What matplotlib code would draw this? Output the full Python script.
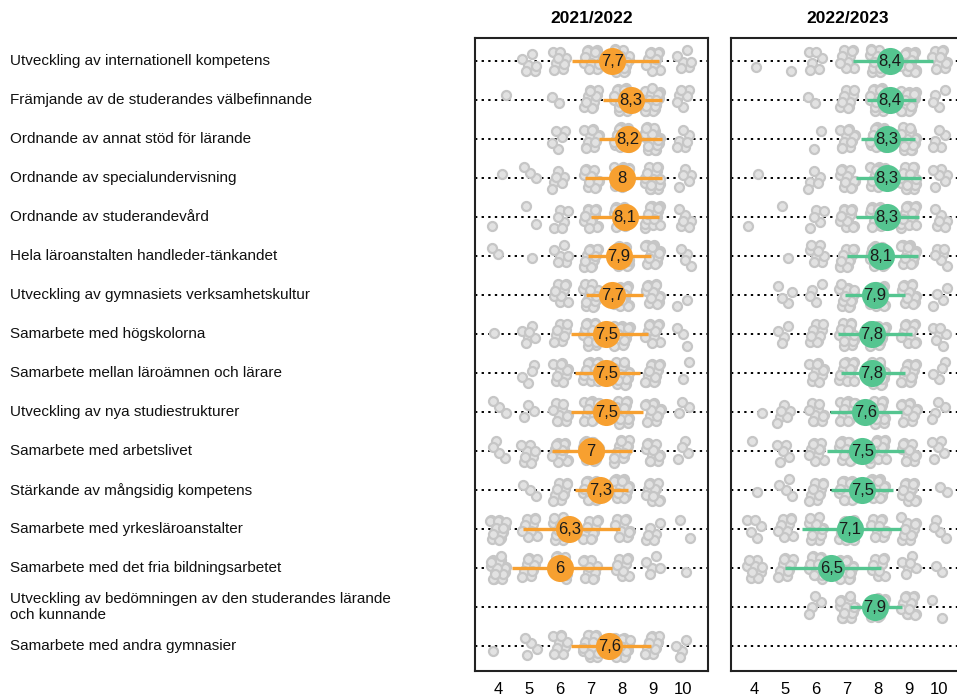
import matplotlib
matplotlib.use("Agg")
import matplotlib.pyplot as plt
from matplotlib import font_manager as fm
import numpy as np

# ---------------- data ----------------
categories = [
    "Utveckling av internationell kompetens",
    "Främjande av de studerandes välbefinnande",
    "Ordnande av annat stöd för lärande",
    "Ordnande av specialundervisning",
    "Ordnande av studerandevård",
    "Hela läroanstalten handleder-tänkandet",
    "Utveckling av gymnasiets verksamhetskultur",
    "Samarbete med högskolorna",
    "Samarbete mellan läroämnen och lärare",
    "Utveckling av nya studiestrukturer",
    "Samarbete med arbetslivet",
    "Stärkande av mångsidig kompetens",
    "Samarbete med yrkesläroanstalter",
    "Samarbete med det fria bildningsarbetet",
    "Utveckling av bedömningen av den studerandes lärande\noch kunnande",
    "Samarbete med andra gymnasier",
]
years = ["2021/2022", "2022/2023"]
scores = [4, 5, 6, 7, 8, 9, 10]

# mean values (None = no data)
means_2122 = [7.7, 8.3, 8.2, 8.0, 8.1, 7.9, 7.7, 7.5, 7.5, 7.5, 7.0, 7.3, 6.3, 6.0, None, 7.6]
means_2223 = [8.4, 8.4, 8.3, 8.3, 8.3, 8.1, 7.9, 7.8, 7.8, 7.6, 7.5, 7.5, 7.1, 6.5, 7.9, None]

# spread line ends
lo_2122 = [6.4, 7.4, 7.25, 6.8, 7.0, 6.9, 6.85, 6.35, 6.5, 6.35, 5.75, 6.5, 4.8, 4.45, None, 6.35]
hi_2122 = [9.2, 9.3, 9.3, 9.3, 9.2, 8.95, 8.7, 8.85, 8.6, 8.7, 8.35, 8.2, 7.95, 7.7, None, 8.95]
lo_2223 = [7.2, 7.65, 7.45, 7.3, 7.3, 7.0, 6.95, 6.7, 6.8, 6.45, 6.35, 6.5, 5.55, 5.0, 7.1, None]
hi_2223 = [9.8, 9.25, 9.2, 9.4, 9.35, 9.3, 8.9, 9.1, 8.9, 8.8, 8.85, 8.5, 8.75, 8.1, 8.8, None]

# response counts per score 4..10
counts_2122 = [
    [0, 6, 8, 20, 25, 15, 6],
    [1, 0, 2, 12, 25, 28, 6],
    [0, 0, 5, 12, 25, 28, 6],
    [1, 3, 6, 14, 25, 24, 5],
    [1, 2, 6, 15, 25, 28, 6],
    [2, 1, 6, 16, 25, 22, 4],
    [0, 0, 10, 22, 25, 18, 2],
    [1, 6, 8, 22, 25, 14, 3],
    [0, 4, 10, 22, 25, 16, 2],
    [3, 3, 10, 22, 25, 14, 3],
    [4, 8, 18, 20, 18, 12, 4],
    [0, 3, 12, 22, 22, 12, 0],
    [20, 12, 18, 12, 14, 6, 2],
    [25, 14, 14, 10, 10, 5, 1],
    [0, 0, 0, 0, 0, 0, 0],
    [1, 4, 10, 25, 22, 14, 4],
]
counts_2223 = [
    [1, 1, 6, 12, 25, 25, 15],
    [0, 0, 2, 10, 25, 25, 4],
    [0, 0, 2, 12, 25, 25, 5],
    [1, 0, 5, 14, 25, 25, 6],
    [1, 1, 5, 14, 25, 25, 6],
    [0, 1, 8, 14, 25, 22, 6],
    [0, 4, 4, 18, 25, 18, 4],
    [0, 4, 10, 20, 25, 15, 6],
    [0, 0, 10, 20, 25, 16, 4],
    [1, 6, 10, 22, 25, 14, 4],
    [1, 5, 10, 22, 25, 12, 5],
    [1, 4, 12, 22, 22, 14, 2],
    [5, 12, 15, 20, 15, 12, 4],
    [10, 14, 20, 15, 10, 6, 2],
    [0, 0, 4, 18, 20, 15, 2],
    [0, 0, 0, 0, 0, 0, 0],
]

# ---------------- style ----------------
avail = {f.name for f in fm.fontManager.ttflist}
narrow = "Liberation Sans Narrow" if "Liberation Sans Narrow" in avail else "Liberation Sans"
plt.rcParams["font.family"] = [narrow, "DejaVu Sans"]

colors = ["#F7A030", "#55C590"]
grey = "#c6c6c6"

W, H = 957, 697
fig = plt.figure(figsize=(W / 100, H / 100), dpi=100)

ax_left = [475 / W, 731 / W]
ax_w = 233 / W
ax_b = 1 - 671 / H
ax_h = 633 / H

n = len(categories)
rows = np.arange(1, n + 1)

panels = [
    (means_2122, lo_2122, hi_2122, counts_2122),
    (means_2223, lo_2223, hi_2223, counts_2223),
]

phi1 = 0.6180339887
phi2 = 0.7548776662

axes = []
for p, (means, lo, hi, counts) in enumerate(panels):
    ax = fig.add_axes([ax_left[p], ax_b, ax_w, ax_h])
    axes.append(ax)
    ax.set_xlim(3.24, 10.8)
    ax.set_ylim(n + 0.64, 0.41)
    for r in rows:
        ax.axhline(r, color="black", lw=1.4, dashes=(1.2, 2.2), zorder=1)
    # jittered responses
    xs, ys = [], []
    for i, r in enumerate(rows):
        for j, s in enumerate(scores):
            c = counts[i][j]
            for k in range(c):
                u = ((k + 1) * phi1 + 0.37 * i + 0.21 * j) % 1.0
                v = ((k + 1) * phi2 + 0.53 * i + 0.17 * j) % 1.0
                xs.append(s + (u - 0.5) * 0.52)
                ys.append(r + (v - 0.5) * 0.6)
    ax.scatter(xs, ys, s=42, facecolor="#e2e2e2", edgecolor=grey, linewidth=1.6, zorder=2)
    for i, r in enumerate(rows):
        if means[i] is None:
            continue
        ax.plot([lo[i], hi[i]], [r, r], color=colors[p], lw=2.4, solid_capstyle="butt", zorder=3)
        ax.plot([means[i]], [r], "o", color=colors[p], markersize=19.5, markeredgewidth=0, zorder=4)
        lab = f"{means[i]:.1f}".replace(".", ",")
        if lab.endswith(",0"):
            lab = lab[:-2]
        ax.text(means[i], r, lab, ha="center", va="center", fontsize=12, color="#1a1a1a", zorder=5)
    ax.set_xticks(scores)
    ax.set_xticklabels([str(s) for s in scores], fontsize=12)
    ax.tick_params(axis="x", length=0, pad=8)
    ax.set_yticks([])
    for sp in ax.spines.values():
        sp.set_linewidth(1.5)
        sp.set_color("#222222")
    ax.set_title(years[p], fontsize=12.5, fontweight="bold", pad=11)

# row labels
for i, r in enumerate(rows):
    yd = axes[0].transData.transform((0, r))[1]
    yf = yd / H
    fig.text(10 / W, yf, categories[i], ha="left", va="center", fontsize=11,
             color="#111111", linespacing=1.2)

fig.savefig("out.png", dpi=100)
